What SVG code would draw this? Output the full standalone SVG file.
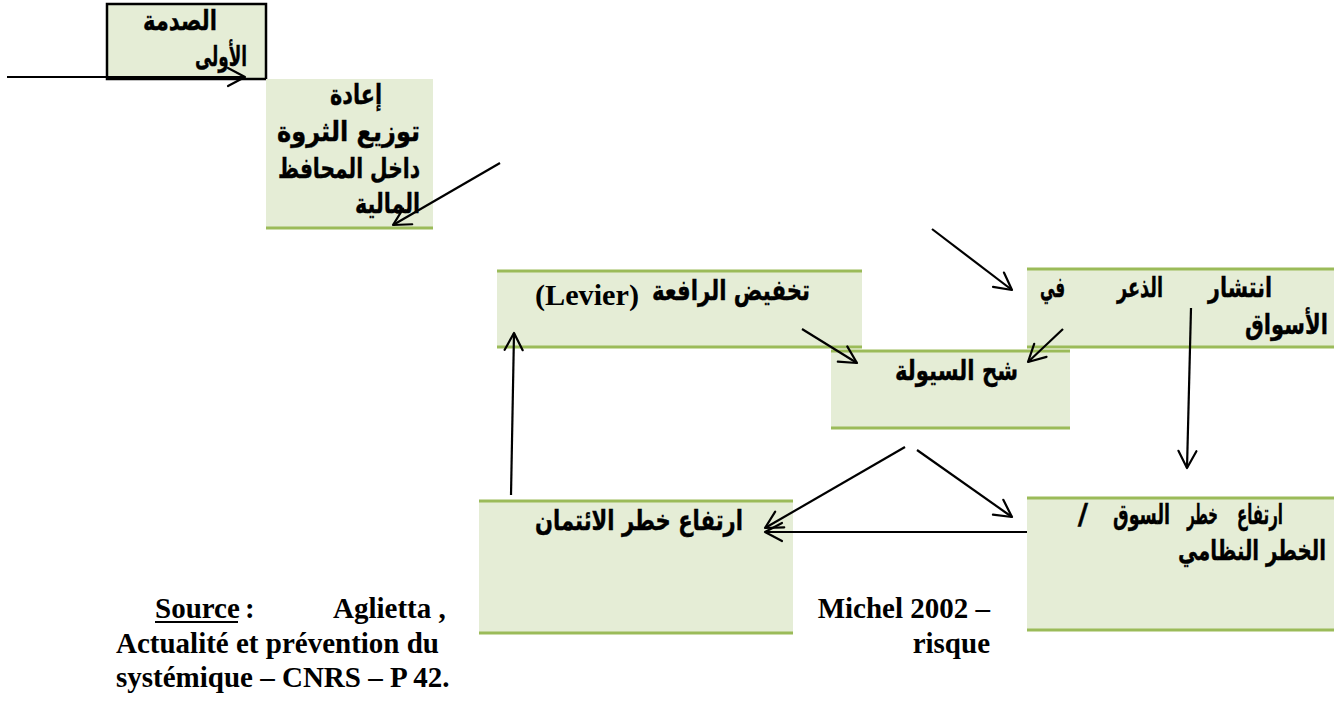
<svg xmlns="http://www.w3.org/2000/svg" width="1334" height="702" viewBox="0 0 1334 702">
<defs>
<style>
.box{fill:#E5EDD6;stroke:none}
.gl{stroke:#9BBB59;stroke-width:3;fill:none}
.ar{font-family:"DejaVu Sans","Noto Sans",sans-serif;font-weight:700;font-size:28px;fill:#000;text-anchor:end;stroke:#000;stroke-width:0.4}
.src{font-family:"Liberation Serif","Times New Roman",serif;font-weight:700;font-size:29px;fill:#000}
.con line{stroke:#000;stroke-width:2.2;fill:none;marker-end:url(#arr)}
</style>
<marker id="arr" markerUnits="userSpaceOnUse" markerWidth="26" markerHeight="26" viewBox="-22 -13 26 26" refX="0" refY="0" orient="auto">
<path d="M-17,-9 L0,0 L-17,9" fill="none" stroke="#000" stroke-width="2.2" stroke-linecap="round" stroke-linejoin="round"/>
</marker>
</defs>
<rect width="1334" height="702" fill="#fff"/>

<g id="node-shock">
<rect x="107" y="4" width="159" height="75" fill="#E5EDD6" stroke="#000" stroke-width="2.5"/>
<text class="ar" x="217" y="30" textLength="74" lengthAdjust="spacingAndGlyphs">الصدمة</text>
<text class="ar" x="247" y="66" textLength="52" lengthAdjust="spacingAndGlyphs">الأولى</text>
</g>

<g id="node-redistribution">
<rect class="box" x="266" y="79" width="167" height="149"/>
<line class="gl" x1="266" y1="228" x2="433" y2="228"/>
<text class="ar" x="382" y="104" textLength="52" lengthAdjust="spacingAndGlyphs">إعادة</text>
<text class="ar" x="420" y="141" textLength="143" lengthAdjust="spacingAndGlyphs">توزيع  الثروة</text>
<text class="ar" x="420" y="178" textLength="142" lengthAdjust="spacingAndGlyphs">داخل المحافظ</text>
<text class="ar" x="420" y="213" textLength="65" lengthAdjust="spacingAndGlyphs">المالية</text>
</g>

<g id="node-deleveraging">
<rect class="box" x="497" y="271" width="365" height="76"/>
<line class="gl" x1="497" y1="271" x2="862" y2="271"/>
<line class="gl" x1="497" y1="347" x2="862" y2="347"/>
<text class="ar" x="810" y="300" textLength="158" lengthAdjust="spacingAndGlyphs">تخفيض الرافعة</text>
<text class="src" x="535" y="305" textLength="104" lengthAdjust="spacingAndGlyphs">(Levier)</text>
</g>

<g id="node-liquidity">
<rect class="box" x="831" y="351" width="239" height="77"/>
<line class="gl" x1="831" y1="351" x2="1070" y2="351"/>
<line class="gl" x1="831" y1="428" x2="1070" y2="428"/>
<text class="ar" x="1018" y="380" textLength="123" lengthAdjust="spacingAndGlyphs">شح السيولة</text>
</g>

<g id="node-panic">
<rect class="box" x="1027" y="269" width="307" height="78"/>
<line class="gl" x1="1027" y1="269" x2="1334" y2="269"/>
<line class="gl" x1="1027" y1="347" x2="1334" y2="347"/>
<text class="ar" x="1272" y="297" textLength="64" lengthAdjust="spacingAndGlyphs">انتشار</text>
<text class="ar" x="1163" y="297" textLength="46" lengthAdjust="spacingAndGlyphs">الذعر</text>
<text class="ar" x="1065" y="297" textLength="25" lengthAdjust="spacingAndGlyphs">في</text>
<text class="ar" x="1328" y="334" textLength="83" lengthAdjust="spacingAndGlyphs">الأسواق</text>
</g>

<g id="node-market-risk">
<rect class="box" x="1027" y="498" width="307" height="132"/>
<line class="gl" x1="1027" y1="498" x2="1334" y2="498"/>
<line class="gl" x1="1027" y1="630" x2="1334" y2="630"/>
<text class="ar" x="1283" y="524" textLength="46" lengthAdjust="spacingAndGlyphs">ارتفاع</text>
<text class="ar" x="1218" y="524" textLength="31" lengthAdjust="spacingAndGlyphs">خطر</text>
<text class="ar" x="1170" y="524" textLength="57" lengthAdjust="spacingAndGlyphs">السوق</text>
<text class="ar" x="1088" y="524">/</text>
<text class="ar" x="1326" y="560" textLength="148" lengthAdjust="spacingAndGlyphs">الخطر النظامي</text>
</g>

<g id="node-credit-risk">
<rect class="box" x="479" y="501" width="314" height="132"/>
<line class="gl" x1="479" y1="501" x2="793" y2="501"/>
<line class="gl" x1="479" y1="633" x2="793" y2="633"/>
<text class="ar" x="743" y="530" textLength="208" lengthAdjust="spacingAndGlyphs">ارتفاع خطر الائتمان</text>
</g>

<g id="connectors" class="con">
<line x1="7" y1="77" x2="245" y2="77"/>
<line x1="500" y1="163" x2="393" y2="225"/>
<line x1="932" y1="229" x2="1012" y2="290"/>
<line x1="802" y1="329" x2="857" y2="363"/>
<line x1="1063" y1="329" x2="1028" y2="362"/>
<line x1="1191" y1="308" x2="1187" y2="468"/>
<line x1="905" y1="447" x2="765" y2="528"/>
<line x1="917" y1="450" x2="1012" y2="517"/>
<line x1="1027" y1="532" x2="765" y2="532"/>
<line x1="511" y1="495" x2="514" y2="333"/>
</g>

<g id="source">
<text class="src" x="155" y="618">Source</text>
<line x1="155" y1="622" x2="238" y2="622" stroke="#000" stroke-width="2"/>
<text class="src" x="245" y="618">:</text>
<text class="src" x="333" y="618">Aglietta ,</text>
<text class="src" x="990" y="618" text-anchor="end">Michel 2002 –</text>
<text class="src" x="116" y="653">Actualité et prévention du</text>
<text class="src" x="990" y="653" text-anchor="end">risque</text>
<text class="src" x="116" y="687">systémique – CNRS – P 42.</text>
</g>
</svg>
